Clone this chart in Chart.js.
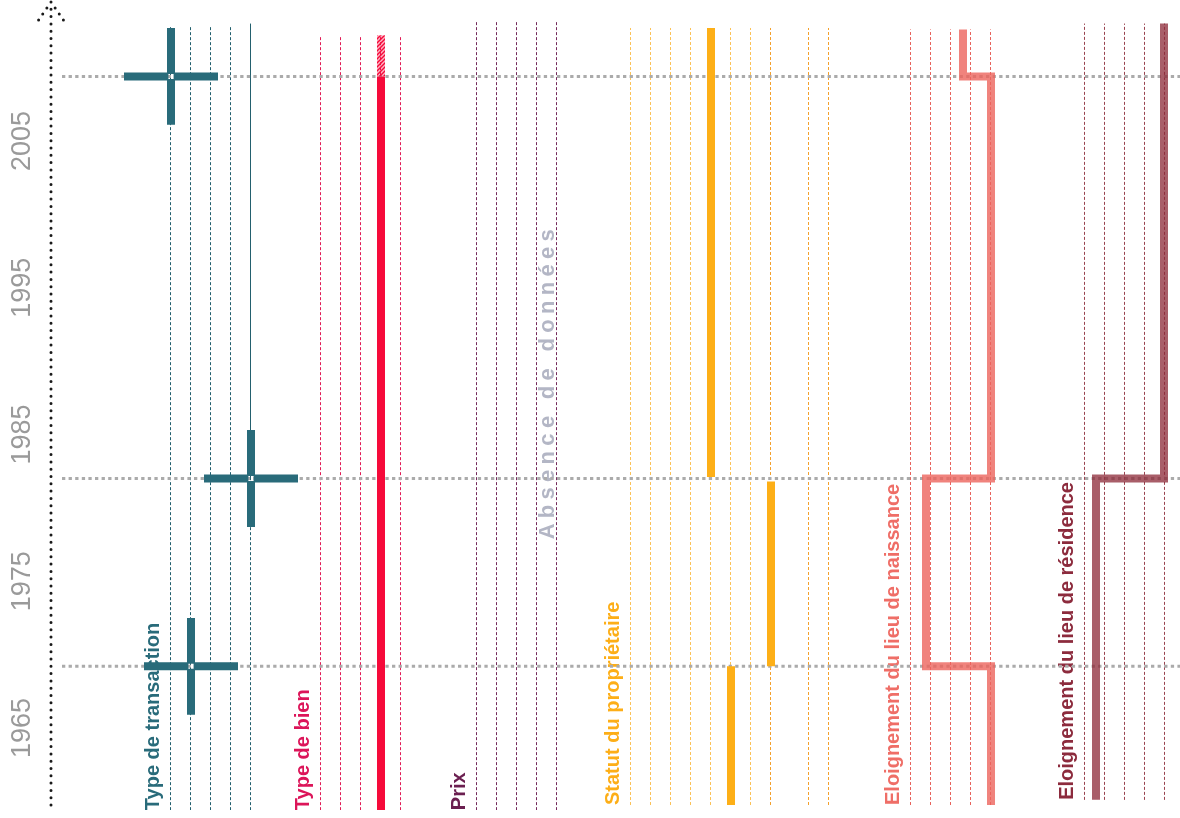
<!DOCTYPE html>
<html lang="fr">
<head>
<meta charset="utf-8">
<title>Disponibilité des variables</title>
<script src="https://cdn.jsdelivr.net/npm/chart.js@4.4.1/dist/chart.umd.min.js"></script>
<style>
  html, body { margin: 0; padding: 0; background: #fff; }
  #cadre { position: relative; width: 1180px; height: 818px; }
</style>
</head>
<body>
<div id="cadre"><canvas id="graphique"></canvas></div>
<script>
// ---------- données ----------
var anneesAxe = [1965, 1975, 1985, 1995, 2005];
var anneesRupture = [1969.2, 1982, 2009.4];

var groupes = ["Type de transaction", "Type de bien", "Prix", "Statut du propriétaire",
               "Eloignement du lieu de naissance", "Eloignement du lieu de résidence"];
var groupeColonnes = [[0, 1, 2, 3, 4], [0, 1, 2, 3, 4], [0, 1, 2, 3, 4],
                      [0, 1, 2, 3, 4, 5, 6, 7, 8.9, 9.9], [0, 1, 2, 3, 4], [0, 1, 2, 3, 4]];
var groupeDebut = [1959.4, 1959.4, 1959.4, 1959.75, 1959.75, 1960.1];
var groupeFin = [2012.8, 2012.2, 2013.2, 2012.7, 2012.6, 2013.0];

// type de transaction : croix (colonne, année)
var transactionColonne = [0, 4, 1];
var transactionAnnee = [2009.4, 1982, 1969.2];
var transactionContinu = [1982, 2013.0];   // colonne 4, trait plein

// type de bien
var bienColonne = 3;
var bienComplet = [1959.4, 2009.4];
var bienPartiel = [2009.4, 2012.2];

// statut du propriétaire
var statutColonne = [4, 7, 5];
var statutDebut = [1982.1, 1969.2, 1959.75];
var statutFin = [2012.7, 1981.8, 1969.2];

// éloignement du lieu de naissance
var naissanceColonne = [2.6, 2.6, 4, 4, 0.75, 0.75, 4, 4];
var naissanceAnnee = [2012.6, 2009.4, 2009.4, 1982, 1982, 1969.2, 1969.2, 1959.75];

// éloignement du lieu de résidence
var residenceColonne = [3.95, 3.95, 0.55, 0.55];
var residenceAnnee = [2013.0, 1982, 1982, 1960.1];

var absenceTexte = "Absence de données";
var absenceColonne = 3.55;   // dans le groupe "Prix"
var absenceAnnee = 1988.6;

// ---------- mise en page ----------
var X_MAX = 56.45;
var Y_MIN = 1959.41, Y_MAX = 2014.47;
var groupeX = [6, 13.5, 21.3, 29, 43, 51.7];
var DEMI_PIXEL = 0.025;
var DECALAGE_TITRE = -0.9;
var BRAS_X = 2.35, BRAS_Y = 3.3, TROU_X = 0.13, TROU_Y = 0.17;
var FLECHE_X = 0.72, FLECHE_Y = 1.43;

var couleursColonnes = ['#23606e', '#e21c55', '#732a5b', '#fcc257', '#e8625b', '#99434f'];
var couleurStatutFonce = '#f4a02c';
var couleursTitres = ['#296b7a', '#dc1559', '#6b1f50', '#fdae17', '#ef6e67', '#8c2b3d'];

function traitVertical(x, y0, y1, pts) {
  pts.push({x: x, y: y0}, {x: x, y: y1}, {x: x, y: null});
  return pts;
}

function motifHachure() {
  var c = document.createElement('canvas');
  c.width = 4; c.height = 4;
  var g = c.getContext('2d');
  g.fillStyle = 'rgba(246,10,58,0.3)';
  g.fillRect(0, 0, 4, 4);
  g.strokeStyle = '#f60a3a';
  g.lineWidth = 1.4;
  g.beginPath();
  g.moveTo(0, 4); g.lineTo(4, 0);
  g.moveTo(-1, 1); g.lineTo(1, -1);
  g.moveTo(3, 5); g.lineTo(5, 3);
  g.stroke();
  return g.createPattern(c, 'repeat');
}

var datasets = [];

// lignes pointillées des colonnes
groupes.forEach(function (nom, i) {
  var clair = [], fonce = [];
  groupeColonnes[i].forEach(function (c) {
    var cible = (i === 3 && c >= 7) ? fonce : clair;
    traitVertical(groupeX[i] + c - DEMI_PIXEL, groupeDebut[i], groupeFin[i], cible);
  });
  datasets.push({ label: nom, data: clair, borderColor: couleursColonnes[i], borderWidth: 1,
                  borderDash: [3, 2], order: 4 });
  if (fonce.length) {
    datasets.push({ label: nom + ' (2)', data: fonce, borderColor: couleurStatutFonce, borderWidth: 1,
                    borderDash: [3, 2], order: 4 });
  }
});
datasets.push({ label: 'transaction continu',
  data: traitVertical(groupeX[0] + 4 - DEMI_PIXEL, transactionContinu[0], transactionContinu[1], []),
  borderColor: '#23606e', borderWidth: 1, order: 3 });

// lignes de rupture grises
var rupture = [];
anneesRupture.forEach(function (a) {
  rupture.push({x: 0.55, y: a}, {x: X_MAX, y: a}, {x: X_MAX, y: null});
});
datasets.push({ label: 'ruptures', data: rupture, borderColor: '#ababab', borderWidth: 3,
                borderDash: [3.3, 3.3], order: 2 });

// croix du type de transaction
var croix = [];
transactionAnnee.forEach(function (a, i) {
  var cx = groupeX[0] + transactionColonne[i];
  croix.push({x: cx - BRAS_X, y: a}, {x: cx - TROU_X, y: a}, {x: cx, y: null},
             {x: cx + TROU_X, y: a}, {x: cx + BRAS_X, y: a}, {x: cx, y: null},
             {x: cx, y: a + BRAS_Y}, {x: cx, y: a + TROU_Y}, {x: cx, y: null},
             {x: cx, y: a - TROU_Y}, {x: cx, y: a - BRAS_Y}, {x: cx, y: null});
});
datasets.push({ label: 'Type de transaction', data: croix, borderColor: '#296b7a', borderWidth: 8, order: 1 });

// type de bien
datasets.push({ label: 'Type de bien',
  data: traitVertical(groupeX[1] + bienColonne, bienComplet[0], bienComplet[1], []),
  borderColor: '#f60a3a', borderWidth: 8, order: 1 });
datasets.push({ label: 'Type de bien partiel',
  data: traitVertical(groupeX[1] + bienColonne, bienPartiel[0], bienPartiel[1], []),
  borderColor: motifHachure(), borderWidth: 8, order: 1 });

// statut
var statut = [];
statutColonne.forEach(function (c, i) {
  traitVertical(groupeX[3] + c, statutDebut[i], statutFin[i], statut);
});
datasets.push({ label: 'Statut du propriétaire', data: statut, borderColor: '#fdaf17', borderWidth: 8, order: 1 });

// éloignements
datasets.push({ label: 'Eloignement du lieu de naissance',
  data: naissanceColonne.map(function (c, i) { return {x: groupeX[4] + c, y: naissanceAnnee[i]}; }),
  borderColor: 'rgba(236,100,92,0.8)', borderWidth: 8, borderJoinStyle: 'miter', order: 1 });
datasets.push({ label: 'Eloignement du lieu de résidence',
  data: residenceColonne.map(function (c, i) { return {x: groupeX[5] + c, y: residenceAnnee[i]}; }),
  borderColor: 'rgba(140,40,55,0.75)', borderWidth: 8, borderJoinStyle: 'miter', order: 1 });

// axe vertical pointillé avec flèche
datasets.push({ label: 'axe',
  data: [{x: 0, y: groupeDebut[3]}, {x: 0, y: Y_MAX}, {x: 0, y: null},
         {x: 0, y: Y_MAX}, {x: -FLECHE_X, y: Y_MAX - FLECHE_Y}, {x: 0, y: null},
         {x: 0, y: Y_MAX}, {x: FLECHE_X, y: Y_MAX - FLECHE_Y}],
  borderColor: '#1a1a1a', borderWidth: 3, borderDash: [0, 7.3], borderCapStyle: 'round',
  clip: false, order: 0 });

var titres = {
  id: 'titres',
  beforeDatasetsDraw: function (chart) {
    var ctx = chart.ctx, sx = chart.scales.x, sy = chart.scales.y;
    groupes.forEach(function (nom, i) {
      ctx.save();
      ctx.translate(sx.getPixelForValue(groupeX[i] + DECALAGE_TITRE), sy.getPixelForValue(groupeDebut[i]));
      ctx.rotate(-Math.PI / 2);
      ctx.font = 'bold 20px "Liberation Sans", Arial, sans-serif';
      ctx.fillStyle = couleursTitres[i];
      ctx.textAlign = 'left';
      ctx.textBaseline = 'middle';
      ctx.fillText(nom, 0, 0);
      ctx.restore();
    });
    ctx.save();
    ctx.translate(sx.getPixelForValue(groupeX[2] + absenceColonne), sy.getPixelForValue(absenceAnnee));
    ctx.rotate(-Math.PI / 2);
    ctx.font = 'bold 22px "Liberation Sans", Arial, sans-serif';
    ctx.letterSpacing = '5.3px';
    ctx.fillStyle = '#b3b6c5';
    ctx.textAlign = 'center';
    ctx.textBaseline = 'middle';
    ctx.fillText(absenceTexte, 0, 0);
    ctx.restore();
  }
};

new Chart(document.getElementById('graphique').getContext('2d'), {
  type: 'line',
  data: { datasets: datasets },
  options: {
    responsive: true,
    maintainAspectRatio: false,
    animation: false,
    events: [],
    layout: { padding: { top: 2, bottom: 8, left: 0, right: 0 } },
    elements: { point: { radius: 0 }, line: { tension: 0 } },
    plugins: { legend: { display: false }, tooltip: { enabled: false } },
    scales: {
      x: { type: 'linear', min: 0, max: X_MAX, display: false },
      y: {
        type: 'linear', min: Y_MIN, max: Y_MAX,
        afterBuildTicks: function (axis) {
          axis.ticks = anneesAxe.map(function (v) { return {value: v}; });
        },
        afterFit: function (axis) {
          axis.width = 51;
          axis.paddingTop = 0;
          axis.paddingBottom = 0;
        },
        grid: { display: false },
        border: { display: false },
        ticks: {
          color: '#9a9a9a',
          font: { family: '"Liberation Sans", Arial, sans-serif', size: 27 },
          minRotation: 90, maxRotation: 90,
          crossAlign: 'center', padding: -10, autoSkip: false,
          callback: function (v) { return String(v); }
        }
      }
    }
  },
  plugins: [titres]
});
</script>
</body>
</html>
